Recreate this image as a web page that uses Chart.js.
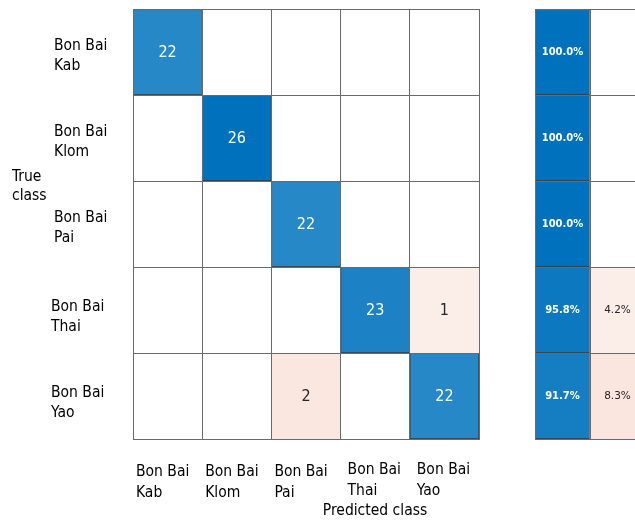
<!DOCTYPE html>
<html>
<head>
<meta charset="utf-8">
<script src="https://cdn.jsdelivr.net/npm/chart.js@4.4.1/dist/chart.umd.min.js"></script>
<style>
  html, body { margin: 0; padding: 0; background: #fff; overflow: hidden; }
  #wrap { position: relative; width: 635px; height: 520px; overflow: hidden; }
  #main { position: absolute; left: 0; top: 0; }
  #summary { position: absolute; left: 534px; top: 0; }
</style>
</head>
<body>
<div id="wrap">
  <canvas id="main" width="635" height="520"></canvas>
  <canvas id="summary" width="112" height="520"></canvas>
</div>
<script>
// ---- data ----
const classLabels = [
  ['Bon Bai', 'Kab'],
  ['Bon Bai', 'Klom'],
  ['Bon Bai', 'Pai'],
  ['Bon Bai', 'Thai'],
  ['Bon Bai', 'Yao']
];
const xAxisTitle = 'Predicted class';
const yAxisTitle = ['True', 'class'];

// rows = true class, columns = predicted class
const rowKab  = [22, 0, 0, 0, 0];
const rowKlom = [0, 26, 0, 0, 0];
const rowPai  = [0, 0, 22, 0, 0];
const rowThai = [0, 0, 0, 23, 1];
const rowYao  = [0, 0, 2, 0, 22];
const countRows = [rowKab, rowKlom, rowPai, rowThai, rowYao];

// row summary (percent of true class)
const rowCorrectPct   = [100.0, 100.0, 100.0, 95.8, 91.7];
const rowIncorrectPct = [0, 0, 0, 4.2, 8.3];
const summaryColumns = ['correct', 'incorrect'];

// ---- styles ----
const FONT = '"DejaVu Sans Condensed", "DejaVu Sans", sans-serif';
const GRID = '#6a6a6a';
const CELL_EDGE = '#3a3a3a';
const BLUE = [0, 114, 189];
const ORANGE = [217, 83, 25];
function mix(c, t) {
  t = Math.max(0, Math.min(1, t));
  return 'rgb(' + c.map(v => Math.round(255 - t * (255 - v))).join(',') + ')';
}
const maxCount = Math.max(...countRows.flat());
function cellColor(v, diag, frac) {
  if (!v) return '#ffffff';
  return diag ? mix(BLUE, frac) : mix(ORANGE, 0.06 + frac);
}

// ---- main matrix ----
const mainDatasets = countRows.map((row, i) => ({
  label: classLabels[i].join(' '),
  data: row.map(() => 1),
  backgroundColor: row.map((v, j) => cellColor(v, i === j, v / maxCount)),
  borderColor: row.map((v, j) => (v && i === j) ? CELL_EDGE : 'rgba(0,0,0,0)'),
  borderWidth: row.map((v, j) => (v && i === j) ? 1 : 0),
  borderSkipped: false,
  categoryPercentage: 1,
  barPercentage: 1,
  stack: 's'
}));

const mainLabels = {
  id: 'mainLabels',
  afterDraw(chart) {
    const ctx = chart.ctx;
    const xs = chart.scales.x, ys = chart.scales.y;
    const area = chart.chartArea;
    ctx.save();
    // cell numbers
    ctx.textAlign = 'center';
    ctx.textBaseline = 'middle';
    ctx.font = '16px ' + FONT;
    countRows.forEach((row, i) => {
      const meta = chart.getDatasetMeta(i);
      row.forEach((v, j) => {
        if (!v) return;
        const el = meta.data[j];
        const cy = (el.y + el.base) / 2;
        ctx.fillStyle = (i === j) ? '#ffffff' : '#262626';
        ctx.fillText(String(v), el.x, cy + 1);
      });
    });
    // tick labels
    ctx.fillStyle = '#000000';
    ctx.font = '15.5px ' + FONT;
    ctx.textAlign = 'left';
    const cw = xs.getPixelForValue(1) - xs.getPixelForValue(0);
    classLabels.forEach((lines, j) => {
      const left = xs.getPixelForValue(j) - cw / 2;
      const yb = area.bottom + 33;
      lines.forEach((t, k) => ctx.fillText(t, left + 3 + (j >= 3 ? 4 : 0), yb + k * 21 - (j >= 3 ? 2 : 0)));
    });
    classLabels.forEach((lines, i) => {
      const cy = ys.getPixelForValue(i + 0.5);
      const dy = i >= 3 ? -3 : -6;
      lines.forEach((t, k) => ctx.fillText(t, 54 - (i >= 3 ? 3 : 0), cy + dy + k * 20));
    });
    // axis titles
    yAxisTitle.forEach((t, k) => ctx.fillText(t, 12, (area.top + area.bottom) / 2 - 47 + k * 19));
    ctx.textAlign = 'center';
    ctx.fillText(xAxisTitle, 375, area.bottom + 72);
    ctx.restore();
  }
};

new Chart(document.getElementById('main'), {
  type: 'bar',
  data: { labels: classLabels.map(l => l.join(' ')), datasets: mainDatasets },
  options: {
    responsive: false,
    animation: false,
    devicePixelRatio: 1,
    layout: { padding: { top: 9, right: 156, left: 0, bottom: 0 } },
    plugins: { legend: { display: false }, tooltip: { enabled: false } },
    scales: {
      x: {
        type: 'category', stacked: true,
        grid: { offset: true, color: GRID, drawTicks: false, lineWidth: 1, z: 1 },
        border: { display: true, color: GRID, z: 1 },
        ticks: { display: false },
        afterFit: s => { s.height = 81; }
      },
      y: {
        type: 'linear', stacked: true, min: 0, max: 5, reverse: true,
        grid: { color: GRID, drawTicks: false, lineWidth: 1, z: 1 },
        border: { display: true, color: GRID, z: 1 },
        ticks: { display: false, stepSize: 1 },
        afterFit: s => { s.width = 133; }
      }
    }
  },
  plugins: [mainLabels]
});

// ---- row summary ----
const summaryDatasets = rowCorrectPct.map((c, i) => {
  const vals = [c, rowIncorrectPct[i]];
  return {
    label: classLabels[i].join(' '),
    data: vals.map(() => 1),
    pct: vals,
    backgroundColor: vals.map((v, j) => cellColor(v, j === 0, v / 100)),
    borderColor: vals.map((v, j) => (v && j === 0) ? CELL_EDGE : 'rgba(0,0,0,0)'),
    borderWidth: vals.map((v, j) => (v && j === 0) ? 1 : 0),
    borderSkipped: false,
    categoryPercentage: 1,
    barPercentage: 1,
    stack: 's'
  };
});

const summaryLabels = {
  id: 'summaryLabels',
  afterDraw(chart) {
    const ctx = chart.ctx;
    ctx.save();
    ctx.textAlign = 'center';
    ctx.textBaseline = 'middle';
    chart.data.datasets.forEach((ds, i) => {
      const meta = chart.getDatasetMeta(i);
      ds.pct.forEach((v, j) => {
        if (!v) return;
        const el = meta.data[j];
        const cy = (el.y + el.base) / 2;
        if (j === 0) { ctx.fillStyle = '#ffffff'; ctx.font = 'bold 10px "DejaVu Sans", sans-serif'; }
        else { ctx.fillStyle = '#262626'; ctx.font = '10.5px "DejaVu Sans", sans-serif'; }
        ctx.fillText(v.toFixed(1) + '%', el.x, cy);
      });
    });
    ctx.restore();
  }
};

new Chart(document.getElementById('summary'), {
  type: 'bar',
  data: { labels: summaryColumns, datasets: summaryDatasets },
  options: {
    responsive: false,
    animation: false,
    devicePixelRatio: 1,
    layout: { padding: { top: 9, right: 1, left: 1, bottom: 0 } },
    plugins: { legend: { display: false }, tooltip: { enabled: false } },
    scales: {
      x: {
        type: 'category', stacked: true,
        grid: { offset: true, color: GRID, drawTicks: false, z: 1 },
        border: { display: true, color: GRID, z: 1 },
        ticks: { display: false },
        afterFit: s => { s.height = 81; }
      },
      y: {
        type: 'linear', stacked: true, min: 0, max: 5, reverse: true,
        grid: { color: GRID, drawTicks: false, z: 1 },
        border: { display: true, color: GRID, z: 1 },
        ticks: { display: false, stepSize: 1 },
        afterFit: s => { s.width = 0; }
      }
    }
  },
  plugins: [summaryLabels]
});
</script>
</body>
</html>
